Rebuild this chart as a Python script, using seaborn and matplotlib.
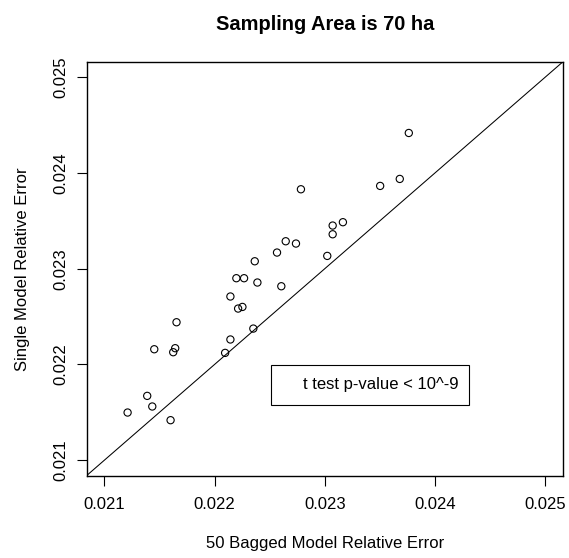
import matplotlib
matplotlib.use("Agg")
import matplotlib.pyplot as plt
import seaborn as sns
import pandas as pd
from matplotlib.patches import Rectangle

# bagged (x) vs single model (y) relative error
bagged_err = [0.021211, 0.021389, 0.021435, 0.021601, 0.021453, 0.021643, 0.021625,
              0.021655, 0.022096, 0.022144, 0.022352, 0.022144, 0.022214, 0.022253,
              0.022198, 0.022268, 0.022389, 0.022606, 0.022365, 0.022567, 0.022646,
              0.022739, 0.022784, 0.023023, 0.023072, 0.023072, 0.023165, 0.023503,
              0.023681, 0.023763]
single_err = [0.021498, 0.021672, 0.021561, 0.021418, 0.022159, 0.022170, 0.022128,
              0.022441, 0.022121, 0.022261, 0.022375, 0.022710, 0.022584, 0.022601,
              0.022901, 0.022901, 0.022856, 0.022817, 0.023078, 0.023169, 0.023287,
              0.023263, 0.023830, 0.023134, 0.023360, 0.023451, 0.023486, 0.023865,
              0.023938, 0.024418]
ticks = [0.021, 0.022, 0.023, 0.024, 0.025]
tick_labels = ["0.021", "0.022", "0.023", "0.024", "0.025"]

df = pd.DataFrame({"bagged": bagged_err, "single": single_err})

sns.set_style("white")
plt.rcParams['font.family'] = ['Liberation Sans', 'DejaVu Sans']
plt.rcParams.update({"text.color": "black", "axes.labelcolor": "black",
                     "xtick.color": "black", "ytick.color": "black"})

fig = plt.figure(figsize=(5.69, 5.58), dpi=100)
ax = fig.add_axes([0.1524, 0.1478, 0.989 - 0.1524, 0.889 - 0.1478])

sns.scatterplot(data=df, x="bagged", y="single", ax=ax, marker="o", s=27,
                facecolor="none", edgecolor="black", linewidth=0.8, zorder=3)

lo, hi = 0.02084, 0.02516
ax.set_xlim(lo, hi)
ax.set_ylim(lo, hi)
ax.axline((0.021, 0.021), (0.025, 0.025), color="black", lw=0.75)

ax.set_xticks(ticks)
ax.set_xticklabels(tick_labels)
ax.set_yticks(ticks)
ax.set_yticklabels(tick_labels, rotation=90, va="center")
ax.tick_params(axis="both", direction="out", length=7.5, width=0.8, color="black",
               labelcolor="black", labelsize=12, bottom=True, left=True)
ax.tick_params(axis="x", pad=8)
ax.tick_params(axis="y", pad=6)
for sp in ax.spines.values():
    sp.set_color("black")
    sp.set_linewidth(1.0)

ax.set_xlabel("50 Bagged Model Relative Error", fontsize=12, color="black")
ax.set_ylabel("Single Model Relative Error", fontsize=12, color="black")
ax.xaxis.set_label_coords(0.5, -0.147)
ax.yaxis.set_label_coords(-0.119, 0.5)
ax.set_title("Sampling Area is 70 ha", fontsize=14.4, fontweight="bold", pad=23,
             color="black")

# p-value box like an R legend
ax.add_patch(Rectangle((0.022508, 0.021574), 0.024306 - 0.022508, 0.021999 - 0.021574,
                       facecolor="white", edgecolor="black", lw=0.8, zorder=4))
ax.text(0.024215, 0.0217865, "t test p-value < 10^-9", ha="right", va="center",
        fontsize=12, color="black", zorder=5)

plt.savefig("out.png", dpi=100)
plt.close()
